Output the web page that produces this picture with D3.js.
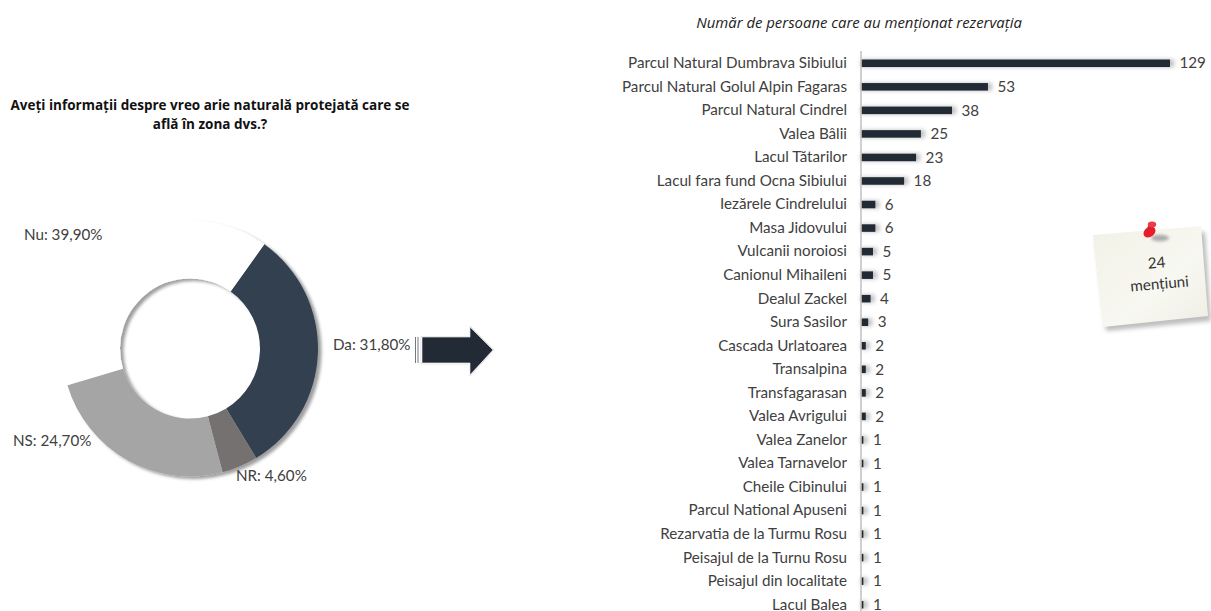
<!DOCTYPE html>
<html><head><meta charset="utf-8">
<script src="https://cdn.jsdelivr.net/npm/d3@7/dist/d3.min.js"></script>
<style>html,body{margin:0;background:#fff}svg{display:block}text{font-family:Lato,"Open Sans",sans-serif}</style>
</head><body><svg id="c" width="1211" height="611"></svg>
<script>
const donutLabels=["Da","NR","NS","Nu"];
const donutValues=[31.8,4.6,24.7,39.9];
const donutTexts=["Da: 31,80%","NR: 4,60%","NS: 24,70%","Nu: 39,90%"];
const donutColors=["#333f50","#767171","#a5a5a5","#ffffff"];
const places=["Parcul Natural Dumbrava Sibiului","Parcul Natural Golul Alpin Fagaras","Parcul Natural Cindrel","Valea Bâlii","Lacul Tătarilor","Lacul fara fund Ocna Sibiului","Iezărele Cindrelului","Masa Jidovului","Vulcanii noroiosi","Canionul Mihaileni","Dealul Zackel","Sura Sasilor","Cascada Urlatoarea","Transalpina","Transfagarasan","Valea Avrigului","Valea Zanelor","Valea Tarnavelor","Cheile Cibinului","Parcul National Apuseni","Rezarvatia de la Turmu Rosu","Peisajul de la Turnu Rosu","Peisajul din localitate","Lacul Balea"];
const mentions=[129,53,38,25,23,18,6,6,5,5,4,3,2,2,2,2,1,1,1,1,1,1,1,1];
const barTitle="Număr de persoane care au menționat rezervația";
const donutTitle=["Aveți informații despre vreo arie naturală protejată care se","află în zona dvs.?"];
const noteLines=["24","mențiuni"];

const svg=d3.select("#c");
const defs=svg.append("defs");
const f=defs.append("filter").attr("id","ds").attr("x","-20%").attr("y","-20%").attr("width","140%").attr("height","140%");
f.append("feDropShadow").attr("dx",3.5).attr("dy",2.5).attr("stdDeviation",1.5).attr("flood-color","#000").attr("flood-opacity",0.38);
const nb=defs.append("filter").attr("id","blur").attr("x","-50%").attr("y","-50%").attr("width","200%").attr("height","200%");
nb.append("feGaussianBlur").attr("stdDeviation",2);
const nb2=defs.append("filter").attr("id","soft").attr("x","-50%").attr("y","-50%").attr("width","200%").attr("height","200%");
nb2.append("feGaussianBlur").attr("stdDeviation",1.6);
const g0=defs.append("linearGradient").attr("id","paper").attr("x1",0).attr("y1",0).attr("x2",1).attr("y2",1);
g0.append("stop").attr("offset","0").attr("stop-color","#f1f1e6");
g0.append("stop").attr("offset","0.6").attr("stop-color","#f8f8f2");
g0.append("stop").attr("offset","1").attr("stop-color","#eeeee4");

// Donut
const cx=190,cy=348.5,ro=128,ri=70;
const pie=d3.pie().sort(null).startAngle(35.5*Math.PI/180).endAngle((35.5+360)*Math.PI/180);
const arc=d3.arc().innerRadius(ri).outerRadius(ro);
const dg=svg.append("g").attr("transform",`translate(${cx},${cy})`).attr("filter","url(#ds)");
dg.selectAll("path").data(pie(donutValues)).join("path").attr("d",arc).attr("fill",(d,i)=>donutColors[i]);
const labelPos=[[333,345],[236,476],[13,441],[24,235]];
svg.selectAll("text.dl").data(donutTexts).join("text").attr("class","dl")
 .attr("x",(d,i)=>labelPos[i][0]).attr("y",(d,i)=>labelPos[i][1]+5).attr("font-size",15.2).attr("fill","#404040").text(d=>d);

svg.append("g").selectAll("text").data(donutTitle).join("text")
 .attr("x",210).attr("y",(d,i)=>109.5+i*19.5).attr("text-anchor","middle")
 .attr("font-size",13.5).attr("font-weight",700).attr("fill","#111")
 .style("font-family","'Open Sans',sans-serif").text(d=>d);

// Arrow
const ag=svg.append("g");
ag.append("path").attr("d","M415.5,337V363M418,337V363").attr("stroke","#50565e").attr("stroke-width",.8).attr("fill","none");
ag.append("path").attr("d","M421,336.5H470V326L494,350L470,376V364H421Z").attr("fill","none").attr("stroke","#d5d5d5").attr("stroke-width",.7);
ag.append("path").attr("d","M422,337H470V327L493,350L470,375V363H422Z").attr("fill","#222a35").attr("stroke","#fff").attr("stroke-width",.6);

// Bars
const x=d3.scaleLinear().domain([0,129]).range([861,1170]);
const y=d3.scaleBand().domain(places).range([51.5,616.5]).paddingInner(0.68).paddingOuter(0.34);
const bh=y.bandwidth();
const bars=svg.append("g");
bars.selectAll("rect.sh").data(mentions).join("rect").attr("class","sh")
 .attr("x",x(0)).attr("y",(d,i)=>y(places[i])).attr("width",d=>x(d)-x(0)+4).attr("height",bh)
 .attr("fill","#999").attr("opacity",.65).attr("filter","url(#blur)");
bars.selectAll("rect.b").data(mentions).join("rect").attr("class","b")
 .attr("x",x(0)).attr("y",(d,i)=>y(places[i])).attr("width",d=>x(d)-x(0)).attr("height",bh)
 .attr("fill","#222a35");
svg.append("line").attr("x1",861).attr("x2",861).attr("y1",51).attr("y2",611).attr("stroke","#c4c4c4").attr("stroke-width",1.6);
const yAxis=d3.axisLeft(y).tickSize(0).tickPadding(14);
const ya=svg.append("g").attr("transform","translate(861,0)").call(yAxis);
ya.select(".domain").remove();
ya.selectAll("text").attr("font-size",15.2).attr("fill","#404040").style("font-family","Lato");
svg.append("g").selectAll("text").data(mentions).join("text")
 .attr("x",d=>x(d)+9.5).attr("y",(d,i)=>y(places[i])+bh/2+5.2).attr("font-size",15.2).attr("fill","#404040").text(d=>d);
svg.append("text").attr("x",859).attr("y",28).attr("text-anchor","middle").attr("font-size",14.9)
 .attr("font-style","italic").attr("fill","#222").style("font-family","'Open Sans',sans-serif").text(barTitle);

// Note
const n=svg.append("g");
n.append("path").attr("d","M1096,240L1205,232L1211,321L1106,331Z").attr("fill","#888").attr("filter","url(#blur)").attr("opacity",.55);
n.append("path").attr("d","M1093,235L1201,226L1208,316L1103,327Z").attr("fill","url(#paper)");
n.append("ellipse").attr("cx",1160).attr("cy",238).attr("rx",9).attr("ry",3.2).attr("fill","#aaa").attr("filter","url(#soft)");
n.append("path").attr("d","M1150,234L1146,237").attr("stroke","#c98a8a").attr("stroke-width",1.2);
n.append("ellipse").attr("cx",1149.5).attr("cy",232).attr("rx",6.5).attr("ry",4.8).attr("fill","#e91b2b").attr("transform","rotate(-35 1149.5 232)");
n.append("path").attr("d","M1149,231L1151,225").attr("stroke","#dc2030").attr("stroke-width",5);
n.append("ellipse").attr("cx",1152).attr("cy",224.5).attr("rx",4.2).attr("ry",3).attr("fill","#ee3a44");
n.append("g").selectAll("text").data(noteLines).join("text")
 .attr("transform",(d,i)=>i?"translate(1160,289) rotate(-5)":"translate(1157,268) rotate(-5)")
 .attr("text-anchor","middle").attr("font-size",15.2).attr("fill","#333").text(d=>d);
</script></body></html>
